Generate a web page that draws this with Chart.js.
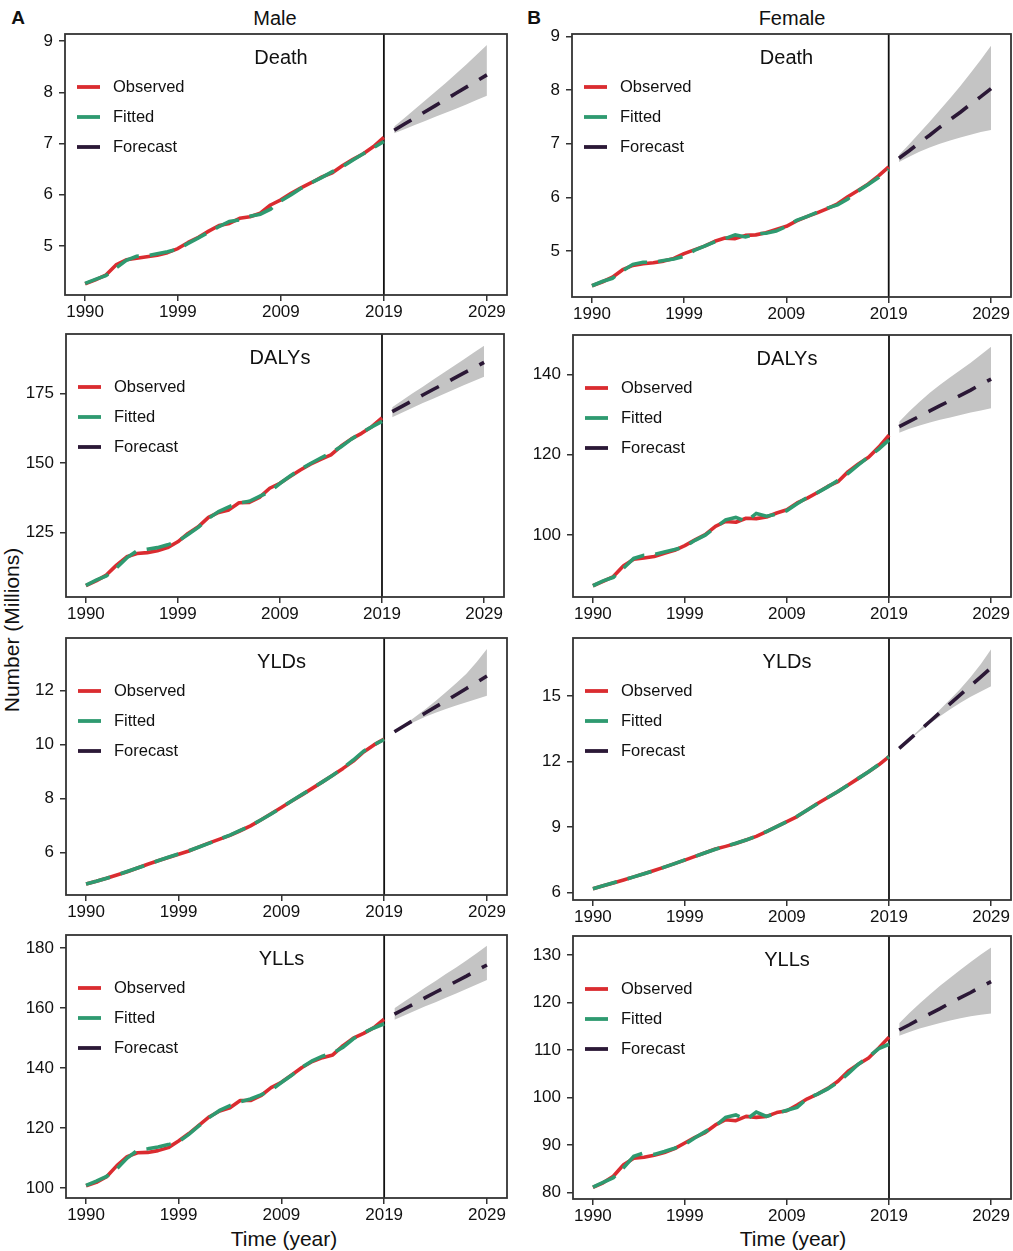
<!DOCTYPE html>
<html>
<head>
<meta charset="utf-8">
<script src="https://cdn.jsdelivr.net/npm/chart.js@4.4.1/dist/chart.umd.min.js"></script>
<style>
body { margin: 0; width: 1013px; height: 1251px; background: #fff; position: relative; overflow: hidden;
       font-family: 'Liberation Sans', Arial, sans-serif; color: #111; }
canvas { position: absolute; }
.lbl { position: absolute; line-height: 1; white-space: nowrap; transform: translate(-50%, -50%); }
</style>
</head>
<body>
<div class="lbl" style="left:18px;top:17px;font-size:19px;font-weight:bold">A</div>
<div class="lbl" style="left:275px;top:18px;font-size:20px">Male</div>
<div class="lbl" style="left:534px;top:17px;font-size:19px;font-weight:bold">B</div>
<div class="lbl" style="left:792px;top:18px;font-size:20px">Female</div>
<div class="lbl" style="left:11px;top:630px;font-size:21px;transform:translate(-50%,-50%) rotate(-90deg)">Number (Millions)</div>
<div class="lbl" style="left:284px;top:1238px;font-size:21px">Time (year)</div>
<div class="lbl" style="left:793px;top:1238px;font-size:21px">Time (year)</div>

<canvas id="c0"></canvas><canvas id="c1"></canvas><canvas id="c2"></canvas><canvas id="c3"></canvas>
<canvas id="c4"></canvas><canvas id="c5"></canvas><canvas id="c6"></canvas><canvas id="c7"></canvas>

<script>
const YEARS = [1990, 1991, 1992, 1993, 1994, 1995, 1996, 1997, 1998, 1999,
               2000, 2001, 2002, 2003, 2004, 2005, 2006, 2007, 2008, 2009,
               2010, 2011, 2012, 2013, 2014, 2015, 2016, 2017, 2018, 2019];
const FC_YEARS = [2020, 2021, 2022, 2023, 2024, 2025, 2026, 2027, 2028, 2029];
const X_TICKS = [1990, 1999, 2009, 2019, 2029];
const DIVIDER_YEAR = 2019;
const LEGEND = ['Observed', 'Fitted', 'Forecast'];

// Male
const MALE_DEATH_OBS = [4.26, 4.34, 4.43, 4.63, 4.73, 4.76, 4.79, 4.82, 4.87, 4.95, 5.07, 5.17, 5.29, 5.40, 5.44,
                        5.54, 5.57, 5.64, 5.80, 5.90, 6.03, 6.14, 6.24, 6.35, 6.43, 6.57, 6.69, 6.80, 6.94, 7.12];
const MALE_DEATH_FIT = [4.27, 4.35, 4.42, 4.57, 4.72, 4.80, 4.81, 4.85, 4.89, 4.94, 5.05, 5.16, 5.27, 5.38, 5.48,
                        5.51, 5.58, 5.62, 5.72, 5.88, 6.00, 6.13, 6.24, 6.34, 6.45, 6.55, 6.68, 6.80, 6.92, 7.04];
const MALE_DEATH_FC = [7.26, 7.38, 7.50, 7.62, 7.74, 7.86, 7.98, 8.10, 8.22, 8.34];
const MALE_DEATH_LO = [7.20, 7.28, 7.36, 7.44, 7.52, 7.60, 7.68, 7.76, 7.85, 7.93];
const MALE_DEATH_HI = [7.33, 7.50, 7.67, 7.84, 8.01, 8.18, 8.36, 8.54, 8.73, 8.92];
const MALE_DEATH_TICKS = [5, 6, 7, 8, 9];

const MALE_DALY_OBS = [105.8, 107.5, 109.6, 113.2, 116.2, 117.4, 117.7, 118.4, 119.5, 121.6, 124.6, 127.0, 130.4, 132.2, 133.1,
                       135.7, 135.8, 137.6, 140.9, 142.7, 145.1, 147.5, 149.6, 151.3, 152.9, 156.1, 158.7, 160.7, 163.1, 166.3];
const MALE_DALY_FIT = [105.9, 107.8, 109.3, 112.2, 115.8, 118.3, 118.9, 119.5, 120.5, 121.8, 124.2, 126.8, 130.0, 132.5, 134.2,
                       135.6, 136.2, 138.0, 139.6, 142.6, 145.3, 147.7, 149.8, 151.8, 153.6, 155.9, 158.6, 161.0, 163.0, 165.0];
const MALE_DALY_FC = [168.5, 170.5, 172.5, 174.5, 176.5, 178.4, 180.4, 182.4, 184.3, 186.3];
const MALE_DALY_LO = [166.5, 168.2, 169.9, 171.6, 173.2, 174.8, 176.4, 178.0, 179.6, 181.1];
const MALE_DALY_HI = [170.1, 172.6, 175.1, 177.5, 180.0, 182.4, 184.9, 187.3, 189.8, 192.3];
const MALE_DALY_TICKS = [125, 150, 175];

const MALE_YLD_OBS = [4.83, 4.93, 5.04, 5.16, 5.28, 5.42, 5.56, 5.69, 5.81, 5.93, 6.05, 6.20, 6.35, 6.49, 6.63,
                      6.80, 6.98, 7.20, 7.43, 7.66, 7.90, 8.13, 8.37, 8.61, 8.86, 9.11, 9.38, 9.72, 9.98, 10.20];
const MALE_YLD_FIT = [4.83, 4.93, 5.04, 5.16, 5.29, 5.42, 5.55, 5.69, 5.82, 5.94, 6.06, 6.20, 6.34, 6.49, 6.64,
                      6.81, 6.99, 7.20, 7.42, 7.66, 7.90, 8.14, 8.37, 8.61, 8.86, 9.12, 9.42, 9.75, 9.98, 10.18];
const MALE_YLD_FC = [10.47, 10.70, 10.93, 11.16, 11.39, 11.61, 11.84, 12.07, 12.30, 12.53];
const MALE_YLD_LO = [10.45, 10.66, 10.85, 11.02, 11.17, 11.31, 11.44, 11.56, 11.68, 11.80];
const MALE_YLD_HI = [10.49, 10.74, 11.01, 11.30, 11.61, 11.93, 12.26, 12.62, 13.05, 13.53];
const MALE_YLD_TICKS = [6, 8, 10, 12];

const MALE_YLL_OBS = [100.8, 101.9, 103.8, 107.5, 110.5, 111.8, 111.9, 112.5, 113.5, 115.7, 118.2, 121.0, 123.8, 125.7, 126.8,
                      129.2, 129.2, 130.8, 133.5, 135.3, 137.7, 140.2, 142.2, 143.5, 144.4, 147.5, 150.0, 151.6, 153.5, 156.3];
const MALE_YLL_FIT = [100.9, 102.3, 103.9, 106.5, 110.0, 112.6, 113.1, 113.7, 114.5, 115.5, 117.9, 120.8, 123.6, 125.9, 127.5,
                      128.8, 129.7, 131.1, 132.6, 135.2, 137.6, 140.3, 142.4, 144.0, 145.0, 147.0, 149.8, 151.8, 153.4, 154.8];
const MALE_YLL_FC = [158.0, 159.8, 161.6, 163.5, 165.3, 167.1, 168.9, 170.7, 172.6, 174.4];
const MALE_YLL_LO = [156.1, 157.6, 159.1, 160.6, 162.0, 163.5, 164.9, 166.4, 167.9, 169.4];
const MALE_YLL_HI = [160.0, 162.3, 164.6, 166.9, 169.1, 171.4, 173.6, 175.9, 178.3, 180.8];
const MALE_YLL_TICKS = [100, 120, 140, 160, 180];

// Female
const FEMALE_DEATH_OBS = [4.35, 4.42, 4.51, 4.65, 4.73, 4.76, 4.78, 4.81, 4.86, 4.95, 5.02, 5.09, 5.18, 5.24, 5.23,
                          5.29, 5.30, 5.34, 5.40, 5.46, 5.56, 5.64, 5.71, 5.79, 5.88, 6.01, 6.13, 6.25, 6.40, 6.57];
const FEMALE_DEATH_FIT = [4.35, 4.43, 4.49, 4.63, 4.75, 4.79, 4.79, 4.82, 4.85, 4.90, 5.01, 5.09, 5.17, 5.23, 5.30,
                          5.26, 5.32, 5.33, 5.37, 5.46, 5.57, 5.64, 5.72, 5.80, 5.86, 5.97, 6.12, 6.24, 6.37, 6.52];
const FEMALE_DEATH_FC = [6.73, 6.87, 7.02, 7.16, 7.31, 7.45, 7.59, 7.74, 7.88, 8.03];
const FEMALE_DEATH_LO = [6.66, 6.76, 6.85, 6.93, 7.00, 7.06, 7.12, 7.17, 7.22, 7.26];
const FEMALE_DEATH_HI = [6.79, 6.99, 7.20, 7.41, 7.63, 7.85, 8.08, 8.32, 8.57, 8.83];
const FEMALE_DEATH_TICKS = [5, 6, 7, 8, 9];

const FEMALE_DALY_OBS = [87.4, 88.5, 89.7, 92.4, 94.0, 94.3, 94.7, 95.5, 96.2, 97.4, 98.8, 100.1, 102.2, 103.4, 103.2,
                         104.2, 104.1, 104.5, 105.5, 106.3, 108.0, 109.2, 110.6, 112.1, 113.3, 115.8, 117.7, 119.4, 121.9, 124.9];
const FEMALE_DALY_FIT = [87.4, 88.6, 89.5, 91.8, 94.2, 95.0, 95.2, 95.8, 96.4, 97.1, 98.7, 100.0, 101.9, 103.8, 104.4,
                         103.4, 105.4, 104.7, 105.2, 106.1, 107.8, 109.4, 110.6, 112.0, 113.6, 115.4, 117.5, 119.5, 121.4, 123.7];
const FEMALE_DALY_FC = [127.0, 128.3, 129.6, 130.9, 132.2, 133.5, 134.8, 136.1, 137.5, 138.8];
const FEMALE_DALY_LO = [125.5, 126.5, 127.3, 128.0, 128.7, 129.3, 129.9, 130.5, 131.0, 131.6];
const FEMALE_DALY_HI = [128.2, 130.8, 133.2, 135.4, 137.4, 139.3, 141.1, 142.9, 144.9, 146.9];
const FEMALE_DALY_TICKS = [100, 120, 140];

const FEMALE_YLD_OBS = [6.17, 6.30, 6.43, 6.57, 6.71, 6.85, 7.00, 7.16, 7.32, 7.48, 7.65, 7.82, 7.99, 8.11, 8.24,
                        8.40, 8.57, 8.79, 9.02, 9.25, 9.48, 9.78, 10.08, 10.35, 10.63, 10.93, 11.23, 11.53, 11.85, 12.23];
const FEMALE_YLD_FIT = [6.17, 6.30, 6.44, 6.57, 6.71, 6.85, 7.00, 7.16, 7.32, 7.49, 7.65, 7.82, 7.98, 8.11, 8.25,
                        8.40, 8.58, 8.79, 9.02, 9.25, 9.49, 9.78, 10.07, 10.35, 10.63, 10.93, 11.23, 11.53, 11.86, 12.22];
const FEMALE_YLD_FC = [12.61, 13.02, 13.43, 13.84, 14.25, 14.66, 15.07, 15.48, 15.89, 16.30];
const FEMALE_YLD_LO = [12.60, 13.00, 13.38, 13.74, 14.08, 14.40, 14.70, 14.97, 15.22, 15.46];
const FEMALE_YLD_HI = [12.62, 13.04, 13.48, 13.93, 14.39, 14.86, 15.34, 15.88, 16.48, 17.15];
const FEMALE_YLD_TICKS = [6, 9, 12, 15];

const FEMALE_YLL_OBS = [81.05, 82.0, 83.4, 85.8, 87.2, 87.4, 87.8, 88.4, 89.2, 90.4, 91.6, 92.6, 94.2, 95.3, 95.1,
                        96.0, 95.8, 96.0, 96.8, 97.2, 98.4, 99.7, 100.7, 101.9, 103.4, 105.5, 107.0, 108.3, 110.4, 112.7];
const FEMALE_YLL_FIT = [81.1, 82.1, 83.1, 85.2, 87.6, 88.3, 88.0, 88.6, 89.3, 90.1, 91.5, 92.8, 94.0, 95.8, 96.3,
                        95.3, 96.9, 96.0, 96.6, 97.3, 97.9, 99.8, 100.7, 101.8, 103.2, 105.0, 107.0, 108.5, 110.3, 111.2];
const FEMALE_YLL_FC = [114.2, 115.3, 116.5, 117.6, 118.7, 119.9, 121.0, 122.1, 123.3, 124.4];
const FEMALE_YLL_LO = [113.0, 113.8, 114.5, 115.1, 115.7, 116.2, 116.7, 117.1, 117.4, 117.7];
const FEMALE_YLL_HI = [115.6, 117.8, 119.8, 121.7, 123.5, 125.2, 126.9, 128.5, 130.1, 131.6];
const FEMALE_YLL_TICKS = [80, 90, 100, 110, 120, 130];

const PANELS = [
    { title: 'Death', obs: MALE_DEATH_OBS, fit: MALE_DEATH_FIT, fc: MALE_DEATH_FC, lo: MALE_DEATH_LO, hi: MALE_DEATH_HI, ticks: MALE_DEATH_TICKS, yMin: 4.044, yMax: 9.137 },
    { title: 'DALYs', obs: MALE_DALY_OBS, fit: MALE_DALY_FIT, fc: MALE_DALY_FC, lo: MALE_DALY_LO, hi: MALE_DALY_HI, ticks: MALE_DALY_TICKS, yMin: 101.7, yMax: 196.5 },
    { title: 'YLDs', obs: MALE_YLD_OBS, fit: MALE_YLD_FIT, fc: MALE_YLD_FC, lo: MALE_YLD_LO, hi: MALE_YLD_HI, ticks: MALE_YLD_TICKS, yMin: 4.42, yMax: 13.94 },
    { title: 'YLLs', obs: MALE_YLL_OBS, fit: MALE_YLL_FIT, fc: MALE_YLL_FC, lo: MALE_YLL_LO, hi: MALE_YLL_HI, ticks: MALE_YLL_TICKS, yMin: 96.7, yMax: 184.4 },
    { title: 'Death', obs: FEMALE_DEATH_OBS, fit: FEMALE_DEATH_FIT, fc: FEMALE_DEATH_FC, lo: FEMALE_DEATH_LO, hi: FEMALE_DEATH_HI, ticks: FEMALE_DEATH_TICKS, yMin: 4.14, yMax: 9.05 },
    { title: 'DALYs', obs: FEMALE_DALY_OBS, fit: FEMALE_DALY_FIT, fc: FEMALE_DALY_FC, lo: FEMALE_DALY_LO, hi: FEMALE_DALY_HI, ticks: FEMALE_DALY_TICKS, yMin: 84.6, yMax: 149.8 },
    { title: 'YLDs', obs: FEMALE_YLD_OBS, fit: FEMALE_YLD_FIT, fc: FEMALE_YLD_FC, lo: FEMALE_YLD_LO, hi: FEMALE_YLD_HI, ticks: FEMALE_YLD_TICKS, yMin: 5.65, yMax: 17.67 },
    { title: 'YLLs', obs: FEMALE_YLL_OBS, fit: FEMALE_YLL_FIT, fc: FEMALE_YLL_FC, lo: FEMALE_YLL_LO, hi: FEMALE_YLL_HI, ticks: FEMALE_YLL_TICKS, yMin: 78.6, yMax: 134.0 },
];

// plot-area boxes on the page: [left, top, right, bottom]
const BOXES = [
    [65, 34, 507, 295], [66, 334, 504, 597], [66, 638, 507, 895], [66, 935, 507, 1198],
    [572, 34, 1011, 297], [573, 335, 1011, 597], [573, 638, 1011, 900], [573, 936, 1011, 1199],
];

const FONT = "'Liberation Sans', Arial, sans-serif";
const COLORS = ['#DA2C30', '#2E9A70', '#2B1836'];
const BAND = '#C4C4C4';
const Y_W = 58, X_H = 30, PAD = { top: 16, right: 4, bottom: 2, left: 2 };

Chart.defaults.font.family = FONT;

const panelDecor = {
    id: 'panelDecor',
    beforeDatasetsDraw(chart) {
        const { ctx, chartArea: a, scales: { x } } = chart;
        const px = x.getPixelForValue(DIVIDER_YEAR);
        ctx.save();
        ctx.strokeStyle = '#111';
        ctx.lineWidth = 1.8;
        ctx.beginPath();
        ctx.moveTo(px, a.top);
        ctx.lineTo(px, a.bottom);
        ctx.stroke();
        ctx.restore();
    },
    afterDraw(chart) {
        const { ctx, chartArea: a } = chart;
        const title = chart.options.plugins.panelDecor.title;
        ctx.save();
        ctx.strokeStyle = '#333';
        ctx.lineWidth = 1.8;
        ctx.strokeRect(a.left, a.top, a.right - a.left, a.bottom - a.top);
        ctx.fillStyle = '#111';
        ctx.textBaseline = 'middle';
        ctx.textAlign = 'center';
        ctx.font = '20px ' + FONT;
        ctx.fillText(title, (a.left + a.right) / 2 - 5, a.top + 24);
        ctx.textAlign = 'left';
        ctx.font = '16.5px ' + FONT;
        LEGEND.forEach((name, i) => {
            const y = a.top + 53 + 30 * i;
            ctx.strokeStyle = COLORS[i];
            ctx.lineWidth = 3.8;
            ctx.beginPath();
            ctx.moveTo(a.left + 12, y);
            ctx.lineTo(a.left + 35, y);
            ctx.stroke();
            ctx.fillText(name, a.left + 48, y);
        });
        ctx.restore();
    }
};

function pts(xs, ys) {
    return xs.map((x, i) => ({ x: x, y: ys[i] }));
}

function makePanel(idx) {
    const p = PANELS[idx];
    const [L, T, R, B] = BOXES[idx];
    const canvas = document.getElementById('c' + idx);
    const cl = L - Y_W - PAD.left;
    const ct = T - PAD.top;
    const cw = R + PAD.right - cl;
    const ch = B + X_H + PAD.bottom - ct;
    canvas.width = cw;
    canvas.height = ch;
    canvas.style.left = cl + 'px';
    canvas.style.top = ct + 'px';
    canvas.style.width = cw + 'px';
    canvas.style.height = ch + 'px';

    const tickFont = { family: FONT, size: 17, lineHeight: 1 };
    new Chart(canvas.getContext('2d'), {
        type: 'line',
        data: {
            datasets: [
                { label: 'lower', data: pts(FC_YEARS, p.lo), borderWidth: 0, pointRadius: 0, fill: false, order: 10 },
                { label: 'upper', data: pts(FC_YEARS, p.hi), borderWidth: 0, pointRadius: 0, fill: 0, backgroundColor: BAND, order: 9 },
                { label: 'Observed', data: pts(YEARS, p.obs), borderColor: COLORS[0], borderWidth: 3.6, pointRadius: 0, fill: false, order: 3, borderJoinStyle: 'round' },
                { label: 'Fitted', data: pts(YEARS, p.fit), borderColor: COLORS[1], borderWidth: 3.6, borderDash: [25, 11], pointRadius: 0, fill: false, order: 2 },
                { label: 'Forecast', data: pts(FC_YEARS, p.fc), borderColor: COLORS[2], borderWidth: 3.6, borderDash: [20, 13], pointRadius: 0, fill: false, order: 1 },
            ]
        },
        options: {
            responsive: false,
            animation: false,
            layout: { padding: PAD },
            plugins: {
                legend: { display: false },
                tooltip: { enabled: false },
                panelDecor: { title: p.title }
            },
            scales: {
                x: {
                    type: 'linear',
                    min: 1988.05,
                    max: 2030.95,
                    afterBuildTicks: s => { s.ticks = X_TICKS.map(v => ({ value: v })); },
                    afterFit: s => { s.height = X_H; },
                    grid: { display: true, drawOnChartArea: false, tickLength: 6, color: '#333', lineWidth: 1.5 },
                    border: { display: false },
                    ticks: { color: '#111', font: tickFont, padding: 3, maxRotation: 0, autoSkip: false, callback: v => String(v) }
                },
                y: {
                    min: p.yMin,
                    max: p.yMax,
                    afterBuildTicks: s => { s.ticks = p.ticks.map(v => ({ value: v })); },
                    afterFit: s => { s.width = Y_W; },
                    grid: { display: true, drawOnChartArea: false, tickLength: 6, color: '#333', lineWidth: 1.5 },
                    border: { display: false },
                    ticks: { color: '#111', font: tickFont, padding: 6, autoSkip: false, callback: v => String(v) }
                }
            }
        },
        plugins: [panelDecor]
    });
}

for (let i = 0; i < PANELS.length; i++) {
    makePanel(i);
}
</script>
</body>
</html>
